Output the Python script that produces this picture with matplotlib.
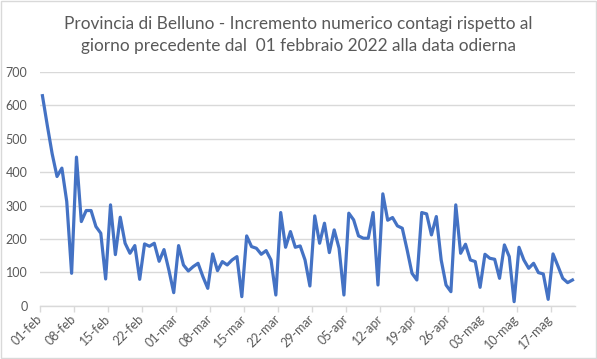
#!/usr/bin/env python3

import numpy as np
import matplotlib
matplotlib.use('Agg')
import matplotlib.pyplot as plt
from matplotlib.patches import Rectangle

plt.rcParams['font.family'] = ['Lato', 'DejaVu Sans']

TITLE = ('Provincia di Belluno - Incremento numerico contagi rispetto al\n'
         'giorno precedente dal  01 febbraio 2022 alla data odierna')

# daily values, 01-feb .. 21-mag 2022
values_feb = [629, 540, 455, 387, 412, 312, 97, 445, 252, 285, 285, 237, 217, 80,
              302, 153, 265, 187, 157, 180, 79, 185, 178, 187, 133, 168, 107, 39]
values_mar = [180, 122, 104, 117, 127, 87, 52, 155, 105, 132, 122, 137, 147, 27,
              209, 177, 172, 154, 165, 137, 32, 279, 175, 222, 175, 179, 137, 59,
              269, 187, 247]
values_apr = [159, 227, 172, 32, 277, 257, 209, 202, 202, 279, 62, 335, 256, 264,
              239, 232, 167, 97, 77, 279, 275, 212, 267, 137, 62, 42, 302, 157,
              184, 137]
values_mag = [132, 55, 154, 142, 139, 82, 182, 147, 12, 175, 137, 112, 127, 99,
              95, 19, 155, 119, 82, 69, 77]
values = values_feb + values_mar + values_apr + values_mag

tick_days = [0, 7, 14, 21, 28, 35, 42, 49, 56, 63, 70, 77, 84, 91, 98, 105]
tick_labels = ['01-feb', '08-feb', '15-feb', '22-feb', '01-mar', '08-mar', '15-mar',
               '22-mar', '29-mar', '05-apr', '12-apr', '19-apr', '26-apr', '03-mag',
               '10-mag', '17-mag']

TEXT_COLOR = '#595959'
GRID_COLOR = '#D9D9D9'
LINE_COLOR = '#4472C4'

fig = plt.figure(figsize=(5.97, 3.59), dpi=100)
ax = fig.add_axes([0.067, 0.1485, 0.896, 0.651])

# points sit in the middle of each day slot
x = np.arange(len(values)) + 0.5
ax.plot(x, values, color=LINE_COLOR, linewidth=2.3, solid_joinstyle='round')

ax.set_xlim(0, len(values))
ax.set_ylim(0, 700)
ax.set_yticks(range(0, 701, 100))
ax.set_xticks(tick_days)
ax.set_xticklabels(tick_labels, rotation=45, ha='right', va='center',
                   rotation_mode='anchor')

ax.grid(axis='y', color=GRID_COLOR, linewidth=1)
ax.set_axisbelow(True)
for side in ['left', 'right', 'top']:
    ax.spines[side].set_visible(False)
ax.spines['bottom'].set_color(GRID_COLOR)
ax.spines['bottom'].set_linewidth(1)

ax.tick_params(axis='y', length=0, pad=9, labelsize=9, labelcolor=TEXT_COLOR)
ax.tick_params(axis='x', length=4, width=1, color=GRID_COLOR, pad=4,
               labelsize=9, labelcolor=TEXT_COLOR)

fig.text(0.5, 0.903, TITLE, ha='center', va='center', fontsize=12.4,
         color=TEXT_COLOR, linespacing=1.45)

# outer chart border
fig.patches.append(Rectangle((0.001, 0.002), 0.997, 0.995, transform=fig.transFigure,
                             fill=False, edgecolor=GRID_COLOR, linewidth=1))

fig.savefig('out.png', dpi=100)
